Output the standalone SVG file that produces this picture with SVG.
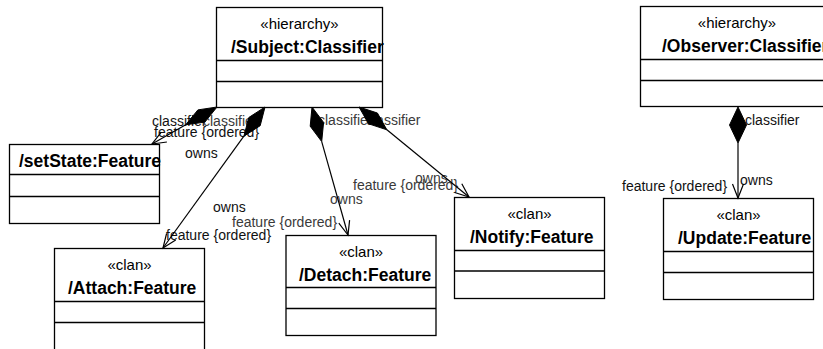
<svg xmlns="http://www.w3.org/2000/svg" width="823" height="349" viewBox="0 0 823 349">
<style>
.box{fill:#fff;stroke:#000;stroke-width:1.3}
.sep{stroke:#000;stroke-width:1.3;fill:none}
.st{font-family:"Liberation Sans",Arial,sans-serif;font-size:15px;fill:#000;text-anchor:middle}
.nm{font-family:"Liberation Sans",Arial,sans-serif;font-size:17.5px;font-weight:bold;fill:#000}
.lb{font-family:"Liberation Sans",Arial,sans-serif;font-size:14px;fill:#111}
.lg{font-family:"Liberation Sans",Arial,sans-serif;font-size:14px;fill:#3a3a3a}
.ln{stroke:#000;stroke-width:1.2;fill:none}
.dm{fill:#000;stroke:#000;stroke-width:1}
</style>
<rect width="823" height="349" fill="#fff"/>
<g id="Subject">
<rect class="box" x="216.5" y="7.5" width="166" height="100"/>
<line class="sep" x1="216.5" y1="60.5" x2="382.5" y2="60.5"/>
<line class="sep" x1="216.5" y1="81.5" x2="382.5" y2="81.5"/>
<text class="st" x="299.5" y="29">«hierarchy»</text>
<text class="nm" x="231" y="53">/Subject:Classifier</text>
</g>
<g id="Observer">
<rect class="box" x="640.5" y="6.5" width="200" height="100"/>
<line class="sep" x1="640.5" y1="59.5" x2="840" y2="59.5"/>
<line class="sep" x1="640.5" y1="80.5" x2="840" y2="80.5"/>
<text class="st" x="737" y="28">«hierarchy»</text>
<text class="nm" x="662" y="52">/Observer:Classifier</text>
</g>
<g id="setState">
<rect class="box" x="9.5" y="144.5" width="150" height="79"/>
<line class="sep" x1="9.5" y1="174.5" x2="159.5" y2="174.5"/>
<line class="sep" x1="9.5" y1="196.5" x2="159.5" y2="196.5"/>
<text class="nm" x="19" y="167">/setState:Feature</text>
</g>
<g id="Attach">
<rect class="box" x="54.5" y="248.5" width="150" height="103"/>
<line class="sep" x1="54.5" y1="301.5" x2="204.5" y2="301.5"/>
<line class="sep" x1="54.5" y1="322.5" x2="204.5" y2="322.5"/>
<text class="st" x="129.5" y="270">«clan»</text>
<text class="nm" x="68" y="294">/Attach:Feature</text>
</g>
<g id="Detach">
<rect class="box" x="286" y="235.5" width="150" height="100"/>
<line class="sep" x1="286" y1="287.5" x2="436" y2="287.5"/>
<line class="sep" x1="286" y1="308.5" x2="436" y2="308.5"/>
<text class="st" x="361" y="257">«clan»</text>
<text class="nm" x="299" y="281">/Detach:Feature</text>
</g>
<g id="Notify">
<rect class="box" x="454.5" y="197.5" width="150" height="101"/>
<line class="sep" x1="454.5" y1="250.5" x2="604.5" y2="250.5"/>
<line class="sep" x1="454.5" y1="271" x2="604.5" y2="271"/>
<text class="st" x="529.5" y="219">«clan»</text>
<text class="nm" x="470" y="243">/Notify:Feature</text>
</g>
<g id="Update">
<rect class="box" x="663.5" y="198.5" width="150" height="101"/>
<line class="sep" x1="663.5" y1="251.5" x2="813.5" y2="251.5"/>
<line class="sep" x1="663.5" y1="272.5" x2="813.5" y2="272.5"/>
<text class="st" x="738.5" y="220">«clan»</text>
<text class="nm" x="678" y="244">/Update:Feature</text>
</g>
<g id="labels">
<text class="lb" x="152" y="126">classifier</text>
<text class="lg" x="203" y="126">classifier</text>
<text class="lb" x="154" y="137">feature {ordered}</text>
<text class="lb" x="185" y="158">owns</text>
<text class="lb" x="213" y="212">owns</text>
<text class="lb" x="166" y="240">feature {ordered}</text>
<text class="lg" x="318" y="125">classifier</text>
<text class="lg" x="330" y="204">owns</text>
<text class="lg" x="232" y="227">feature {ordered}</text>
<text class="lg" x="366" y="125">classifier</text>
<text class="lg" x="353" y="190">feature {ordered}</text>
<text class="lg" x="415" y="183">owns</text>
<text class="lb" x="745" y="125">classifier</text>
<text class="lb" x="622" y="191">feature {ordered}</text>
<text class="lb" x="740" y="185">owns</text>
</g>
<g id="connectors">
<polygon class="dm" points="217,107 204.9,122.1 185.7,124.8 197.9,109.9"/>
<polyline class="ln" points="185.7,124.8 152,144"/>
<polyline class="ln" points="166.9,142 152,144 161.3,132.2"/>
<polygon class="dm" points="265,107 260.2,125.7 243.9,136.2 248.8,117.5"/>
<polyline class="ln" points="243.9,136.2 163,248"/>
<polyline class="ln" points="175.7,240 163,248 166.6,233.4"/>
<polygon class="dm" points="312,107 323.6,122.4 321.7,141.6 310.2,126.2"/>
<polyline class="ln" points="321.7,141.6 348,235"/>
<polyline class="ln" points="349.6,220.1 348,235 338.8,223.1"/>
<polygon class="dm" points="359,107 377.4,113 386.9,129.8 368.6,123.8"/>
<polyline class="ln" points="386.9,129.8 469,197"/>
<polyline class="ln" points="461.8,183.8 469,197 454.7,192.5"/>
<polygon class="dm" points="738,107 746.5,125 738,143 729.5,125"/>
<polyline class="ln" points="738,143 738,198"/>
<polyline class="ln" points="732.5,184 738,198 743.5,184"/>
</g>
</svg>
